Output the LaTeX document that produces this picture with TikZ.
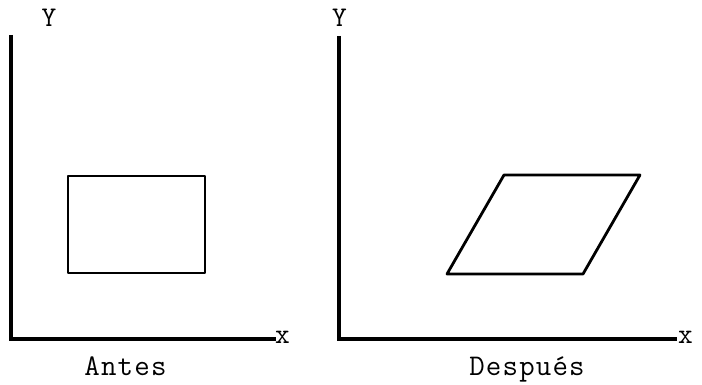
\documentclass[tikz,border=0pt]{standalone}
\usepackage{fontspec}
\setmonofont[LetterSpace=4]{Latin Modern Mono}
\begin{document}
\begin{tikzpicture}[x=1pt,y=-1pt,
  axis/.style={line width=3.2pt},
  figline/.style={line width=2.8pt, line join=round},
  lbl/.style={font=\ttfamily\fontsize{30}{32}\selectfont, inner sep=0pt, anchor=base},
  axlbl/.style={font=\ttfamily\fontsize{28.5}{30}\selectfont, inner sep=0pt, anchor=base}]
\useasboundingbox (0,0) rectangle (702,385);
% left panel
\coordinate (ly) at (11,35);
\coordinate (lo) at (11,339);
\coordinate (lx) at (276,339);
\draw[axis] (ly) -- (lo) -- (lx);
\node[axlbl] (lyl) at (49,27) {Y};
\node[axlbl] (lxl) at (282.5,343) {x};
\node[lbl] (antes) at (125.5,375) {Antes};
\coordinate (r1) at (68,273);
\coordinate (r2) at (205,273);
\coordinate (r3) at (205,176);
\coordinate (r4) at (68,176);
\draw[figline] (r1) -- (r2) -- (r3) -- (r4) -- cycle;
% right panel
\coordinate (ry) at (339,36);
\coordinate (ro) at (339,339);
\coordinate (rx) at (677,339);
\draw[axis] (ry) -- (ro) -- (rx);
\node[axlbl] (ryl) at (339.5,27) {Y};
\node[axlbl] (rxl) at (685.5,343) {x};
\node[lbl] (desp) at (527,375) {Después};
\coordinate (p1) at (447,274);
\coordinate (p2) at (583,274);
\coordinate (p3) at (640,175);
\coordinate (p4) at (504,175);
\draw[figline] (p1) -- (p2) -- (p3) -- (p4) -- cycle;
\end{tikzpicture}
\end{document}
